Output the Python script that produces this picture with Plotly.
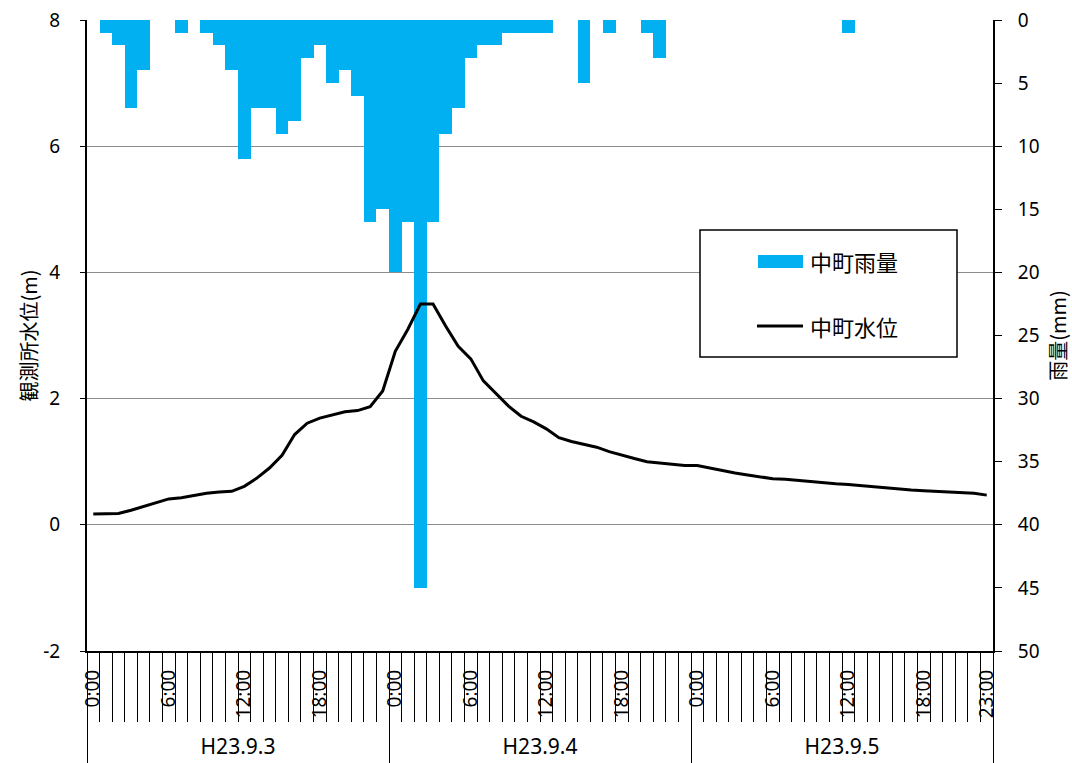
import plotly.graph_objects as go

# Hourly observations, 3 days x 24 hours
days = ["H23.9.3", "H23.9.4", "H23.9.5"]
hours_per_day = 24

# Hourly rainfall at Nakamachi (mm)
rain = [0, 1, 2, 7, 4, 0, 0, 1, 0, 1, 2, 4, 11, 7, 7, 9, 8, 3, 2, 5, 4, 6, 16, 15,
        20, 16, 45, 16, 9, 7, 3, 2, 2, 1, 1, 1, 1, 0, 0, 5, 0, 1, 0, 0, 1, 3, 0, 0,
        0, 0, 0, 0, 0, 0, 0, 0, 0, 0, 0, 0, 1, 0, 0, 0, 0, 0, 0, 0, 0, 0, 0, 0]

# Water level at Nakamachi gauge (m)
level = [0.17, 0.17, 0.18, 0.23, 0.29, 0.36, 0.41, 0.43, 0.47, 0.50, 0.52, 0.53,
         0.61, 0.74, 0.90, 1.10, 1.43, 1.61, 1.69, 1.74, 1.79, 1.81, 1.87, 2.12,
         2.75, 3.10, 3.50, 3.50, 3.15, 2.83, 2.63, 2.28, 2.08, 1.88, 1.72, 1.63,
         1.52, 1.38, 1.32, 1.27, 1.23, 1.16, 1.10, 1.05, 1.00, 0.98, 0.96, 0.94,
         0.94, 0.90, 0.85, 0.82, 0.79, 0.76, 0.73, 0.72, 0.70, 0.68, 0.66, 0.65,
         0.64, 0.62, 0.61, 0.59, 0.57, 0.55, 0.54, 0.53, 0.52, 0.51, 0.50, 0.47]

# Hour labels shown under the axis (others left blank)
hour_labels = {0: "0:00", 6: "6:00", 12: "12:00", 18: "18:00"}
last_label = "23:00"

# Left axis ticks (water level, m)
level_ticks = [-2, 0, 2, 4, 6, 8]

n = len(rain)
idx = list(range(n))
label_pos, label_text = [], []
for i in idx:
    h = i % hours_per_day
    if h in hour_labels:
        label_pos.append(i)
        label_text.append(hour_labels[h])
label_pos.append(n - 1)
label_text.append(last_label)

day_bounds = [d * hours_per_day - 0.5 for d in range(len(days) + 1)]
day_centers = [d * hours_per_day + (hours_per_day - 1) / 2 for d in range(len(days))]
hour_bounds = [i - 0.5 for i in range(n + 1)]
xr = [-0.5, n - 0.5]

BLUE = "#00B0F0"
GRID = "#8C8C8C"
NUM_FONT = "Noto Sans, Noto Sans CJK JP, sans-serif"
JP_FONT = "Noto Sans CJK JP, Noto Sans, sans-serif"

fig = go.Figure()
fig.add_trace(go.Bar(
    x=idx, y=rain, width=1, name="中町雨量",
    marker=dict(color=BLUE, line=dict(width=0)),
    xaxis="x", yaxis="y", showlegend=False, hoverinfo="skip",
))
fig.add_trace(go.Scatter(
    x=idx, y=level, mode="lines", name="中町水位",
    line=dict(color="black", width=3),
    xaxis="x", yaxis="y2", showlegend=False, hoverinfo="skip",
))
# Empty traces so the auxiliary label / divider axes get drawn
for ax in ("x2", "x3", "x4"):
    fig.add_trace(go.Scatter(x=[None], y=[None], mode="markers", xaxis=ax,
                             yaxis="y", showlegend=False, hoverinfo="skip"))

W, H = 1072, 763
L, R, T, B = 87, 79, 20, 112
plot_w, plot_h = W - L - R, H - T - B


def px(xp):
    return (xp - L) / plot_w


def py(yp):
    return (H - B - yp) / plot_h


# Legend box built from shapes and text
shapes = [
    dict(type="rect", xref="paper", yref="paper", x0=px(700), x1=px(957),
         y0=py(357), y1=py(230), line=dict(color="black", width=1.5),
         fillcolor="white", layer="above"),
    dict(type="rect", xref="paper", yref="paper", x0=px(758), x1=px(803),
         y0=py(268), y1=py(255), line=dict(width=0), fillcolor=BLUE, layer="above"),
    dict(type="line", xref="paper", yref="paper", x0=px(757), x1=px(803),
         y0=py(326), y1=py(326), line=dict(color="black", width=3), layer="above"),
]
annotations = [
    dict(xref="paper", yref="paper", x=px(808), y=py(261), text="中町雨量",
         showarrow=False, xanchor="left", yanchor="middle",
         font=dict(family=JP_FONT, size=22, color="black")),
    dict(xref="paper", yref="paper", x=px(808), y=py(326), text="中町水位",
         showarrow=False, xanchor="left", yanchor="middle",
         font=dict(family=JP_FONT, size=22, color="black")),
]

fig.update_layout(
    width=W, height=H,
    margin=dict(l=L, r=R, t=T, b=B, pad=0),
    paper_bgcolor="white", plot_bgcolor="white",
    bargap=0, showlegend=False,
    shapes=shapes, annotations=annotations,
    xaxis=dict(
        range=xr, tickmode="array", tickvals=hour_bounds, ticks="outside",
        ticklen=69, tickwidth=1.3, tickcolor="black", showticklabels=False,
        showline=True, linecolor="black", linewidth=2, showgrid=False,
        zeroline=False, anchor="y", automargin=False,
    ),
    xaxis2=dict(
        range=xr, overlaying="x", anchor="y", side="bottom",
        tickmode="array", tickvals=label_pos, ticktext=label_text,
        tickangle=-90, ticks="", ticklabelstandoff=14,
        tickfont=dict(family=NUM_FONT, size=19, color="black"),
        showline=False, showgrid=False, zeroline=False, automargin=False,
    ),
    xaxis3=dict(
        range=xr, overlaying="x", anchor="y", side="bottom",
        tickmode="array", tickvals=day_bounds, ticks="outside", ticklen=112,
        tickwidth=1.3, tickcolor="black", showticklabels=False,
        showline=False, showgrid=False, zeroline=False, automargin=False,
    ),
    xaxis4=dict(
        range=xr, overlaying="x", anchor="y", side="bottom",
        tickmode="array", tickvals=day_centers, ticktext=days,
        ticks="", ticklabelstandoff=81,
        tickfont=dict(family=NUM_FONT, size=21, color="black"),
        showline=False, showgrid=False, zeroline=False, automargin=False,
    ),
    yaxis=dict(
        range=[50, 0], side="right", anchor="x", tickmode="linear",
        tick0=0, dtick=5, ticks="outside", ticklen=7, tickwidth=1.3,
        tickcolor="black", showline=True, linecolor="black", linewidth=2,
        showgrid=False, zeroline=False, ticklabelstandoff=12,
        tickfont=dict(family=NUM_FONT, size=19, color="black"),
        title=dict(text="雨量(mm)", standoff=18,
                   font=dict(family=JP_FONT, size=20, color="black")),
        automargin=False,
    ),
    yaxis2=dict(
        range=[-2, 8], side="left", overlaying="y", anchor="x",
        tickmode="array", tickvals=level_ticks,
        ticktext=[str(v) for v in level_ticks], ticks="outside", ticklen=5,
        tickwidth=1.3, tickcolor="black", showline=True, linecolor="black",
        linewidth=2, showgrid=True, gridcolor=GRID, gridwidth=1.3,
        zeroline=False, ticklabelstandoff=16,
        tickfont=dict(family=NUM_FONT, size=19, color="black"),
        title=dict(text="観測所水位(m)", standoff=0,
                   font=dict(family=JP_FONT, size=20, color="black")),
        automargin=False,
    ),
)

fig.write_html("out.html")
